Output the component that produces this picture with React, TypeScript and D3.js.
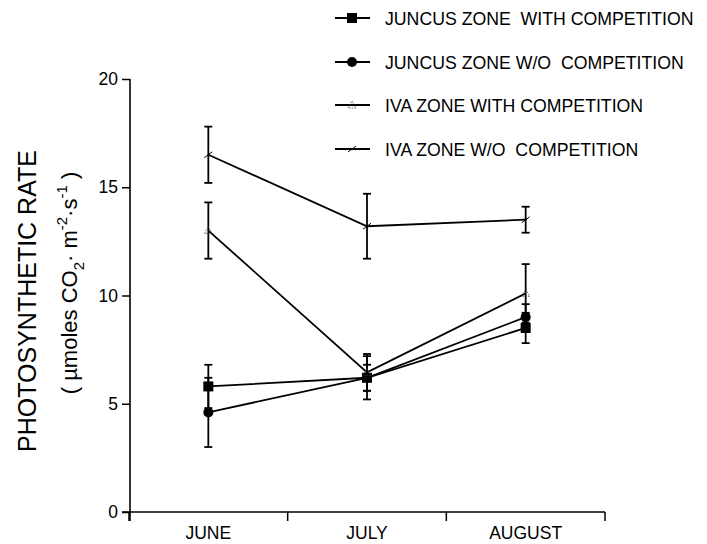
import { useEffect, useRef } from 'react'
import * as d3 from 'd3'

const months = ['JUNE', 'JULY', 'AUGUST']
const yTicks = [0, 5, 10, 15, 20]

const seriesNames = [
  'JUNCUS ZONE  WITH COMPETITION',
  'JUNCUS ZONE W/O  COMPETITION',
  'IVA ZONE WITH COMPETITION',
  'IVA ZONE W/O  COMPETITION',
]
const seriesMarkers = ['square', 'circle', 'triangle', 'zig']

const juncusWith = [5.8, 6.2, 8.5]
const juncusWithErr = [1.0, 0.6, 0.7]
const juncusWithout = [4.6, 6.2, 9.0]
const juncusWithoutErr = [1.6, 1.0, 0.6]
const ivaWith = [13.0, 6.45, 10.1]
const ivaWithErr = [1.3, 0.85, 1.35]
const ivaWithout = [16.5, 13.2, 13.5]
const ivaWithoutErr = [1.3, 1.5, 0.6]

const seriesValues = [juncusWith, juncusWithout, ivaWith, ivaWithout]
const seriesErrors = [juncusWithErr, juncusWithoutErr, ivaWithErr, ivaWithoutErr]

const FONT = '"Liberation Sans", Arial, Helvetica, sans-serif'

function drawMarker(g: d3.Selection<SVGGElement, unknown, null, undefined>, kind: string, cx: number, cy: number) {
  if (kind === 'square') {
    g.append('rect').attr('x', cx - 5).attr('y', cy - 5).attr('width', 10).attr('height', 10).attr('fill', '#000')
  } else if (kind === 'circle') {
    g.append('circle').attr('cx', cx).attr('cy', cy).attr('r', 5).attr('fill', '#000')
  } else if (kind === 'triangle') {
    g.append('path')
      .attr('d', `M${cx},${cy - 4}L${cx + 4},${cy + 3}L${cx - 4},${cy + 3}Z`)
      .attr('fill', 'none').attr('stroke', '#444').attr('stroke-width', 0.8)
      .attr('stroke-dasharray', '1.5,1.2')
  } else {
    g.append('path')
      .attr('d', `M${cx - 4},${cy + 3}L${cx + 1},${cy - 1}L${cx - 1},${cy + 1}L${cx + 4},${cy - 3}`)
      .attr('fill', 'none').attr('stroke', '#000').attr('stroke-width', 1)
  }
}

function PhotoChart() {
  const svgRef = useRef<SVGSVGElement>(null)

  useEffect(() => {
    const svg = d3.select(svgRef.current)
    svg.selectAll('*').remove()

    const x = d3.scaleBand<string>().domain(months).range([129, 605]).padding(0)
    const y = d3.scaleLinear().domain([0, 20]).range([512, 79])
    const cx = (m: string) => (x(m) as number) + x.bandwidth() / 2

    const g = svg.append('g')

    // y axis
    g.append('line').attr('x1', 130).attr('x2', 130).attr('y1', y(20)).attr('y2', y(0) + 9)
      .attr('stroke', '#000').attr('stroke-width', 1.6)
    g.append('g')
      .attr('transform', 'translate(130,0)')
      .call(d3.axisLeft(y).tickValues(yTicks).tickSize(8).tickPadding(4))
      .call((a) => a.select('.domain').remove())
      .call((a) => a.selectAll('line').attr('stroke', '#000').attr('stroke-width', 1.5))
      .call((a) => a.selectAll('text').attr('fill', '#000').attr('font-size', 17.5).attr('font-family', FONT))

    // x axis
    g.append('line').attr('x1', 122).attr('x2', 605).attr('y1', y(0)).attr('y2', y(0))
      .attr('stroke', '#000').attr('stroke-width', 1.6)
    const bounds = [...months.map((m) => x(m) as number), x.range()[1]]
    bounds.forEach((b) => {
      g.append('line').attr('x1', b).attr('x2', b).attr('y1', y(0)).attr('y2', y(0) + 9)
        .attr('stroke', '#000').attr('stroke-width', 1.5)
    })
    months.forEach((m) => {
      g.append('text').attr('x', cx(m)).attr('y', 539).attr('text-anchor', 'middle')
        .attr('font-size', 17.5).attr('font-family', FONT).text(m)
    })

    // y label
    g.append('text')
      .attr('transform', 'translate(36,301) rotate(-90)')
      .attr('text-anchor', 'middle').attr('font-size', 25).attr('font-family', FONT)
      .text('PHOTOSYNTHETIC RATE')
    const sub = g.append('text')
      .attr('transform', 'translate(77,283) rotate(-90)')
      .attr('text-anchor', 'middle').attr('font-size', 22).attr('font-family', FONT)
      .style('white-space', 'pre')
    sub.append('tspan').text('( µmoles CO')
    sub.append('tspan').attr('dy', 7).attr('font-size', 15).text('2')
    sub.append('tspan').attr('dy', -7).text('· m')
    sub.append('tspan').attr('dy', -10).attr('font-size', 15).text('-2')
    sub.append('tspan').attr('dy', 10).text('·s')
    sub.append('tspan').attr('dy', -10).attr('font-size', 15).text('-1')
    sub.append('tspan').attr('dy', 10).text(' )')

    const line = d3.line<number>().x((_, i) => cx(months[i])).y((d) => y(d))

    seriesValues.forEach((vals, si) => {
      g.append('path').datum(vals).attr('d', line)
        .attr('fill', 'none').attr('stroke', '#000').attr('stroke-width', 1.8)
      vals.forEach((v, i) => {
        const e = seriesErrors[si][i]
        const px = cx(months[i])
        g.append('line').attr('x1', px).attr('x2', px).attr('y1', y(v - e)).attr('y2', y(v + e))
          .attr('stroke', '#000').attr('stroke-width', 1.8)
        ;[v - e, v + e].forEach((ev) => {
          g.append('line').attr('x1', px - 4).attr('x2', px + 4).attr('y1', y(ev)).attr('y2', y(ev))
            .attr('stroke', '#000').attr('stroke-width', 1.8)
        })
        drawMarker(g, seriesMarkers[si], px, y(v))
      })
    })

    // legend
    const legendY = [18, 62, 105, 149]
    seriesNames.forEach((name, i) => {
      const ly = legendY[i]
      g.append('line').attr('x1', 335).attr('x2', 370).attr('y1', ly).attr('y2', ly)
        .attr('stroke', '#000').attr('stroke-width', 1.8)
      drawMarker(g, seriesMarkers[i], 352, ly)
      g.append('text').attr('x', 385).attr('y', ly + 6.5).attr('font-size', 17.7)
        .attr('font-family', FONT).style('white-space', 'pre').text(name)
    })
  }, [])

  return <svg ref={svgRef} width={707} height={544} style={{ display: 'block', position: 'absolute', left: 0, top: 0, background: '#fff' }} />
}

export default function App() {
  return <PhotoChart />
}
